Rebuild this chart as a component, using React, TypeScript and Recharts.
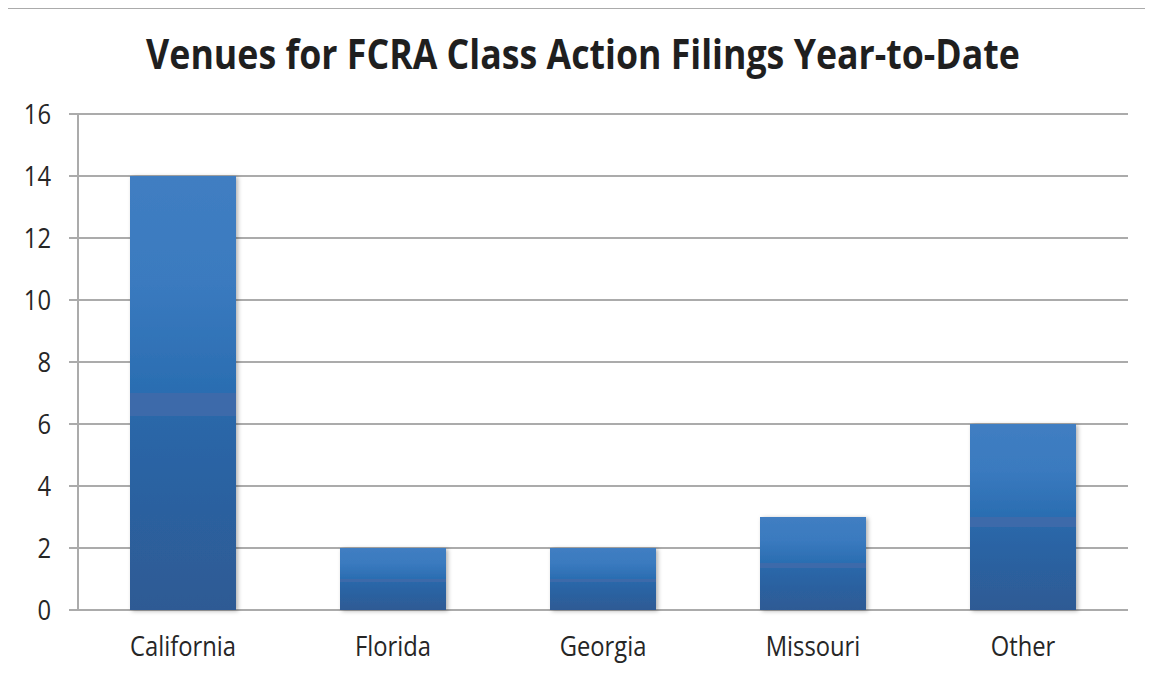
import { BarChart, Bar, XAxis, YAxis, CartesianGrid } from 'recharts';

const venues = ['California', 'Florida', 'Georgia', 'Missouri', 'Other'];
const filings = [14, 2, 2, 3, 6];
const yTicks = [0, 2, 4, 6, 8, 10, 12, 14, 16];
const edgeTicks = [0, 1, 2, 3, 4, 5];

const data = venues.map((venue, i) => ({ venue, filings: filings[i] }));

const GRID = '#ABABAB';
const TEXT = '#262626';
const FONT = '"Open Sans", sans-serif';

const XTick = ({ x, y, payload }: any) => (
    <g transform={`translate(${x},${y + 46}) scale(0.88,1)`}>
        <text textAnchor="middle" fontSize={27} fontFamily={FONT} fill={TEXT}>{payload.value}</text>
    </g>
);

const YTick = ({ x, y, payload }: any) => (
    <g transform={`translate(${x},${y}) scale(0.88,1)`}>
        <text textAnchor="end" dy="0.36em" fontSize={27} fontFamily={FONT} fill={TEXT}>{payload.value}</text>
    </g>
);

const BarShape = ({ x, y, width, height }: any) => (
    <rect x={x} y={y} width={width} height={height} fill="url(#barGrad)" filter="url(#barShadow)" />
);

export default function App() {
    return (
        <div style={{ position: 'relative', margin: '-8px 0 0 -8px', width: 1153, height: 677, overflow: 'hidden', background: '#fff' }}>
            <style>{'html{overflow:hidden}'}</style>
            {/* frame + title */}
            <svg width={1153} height={677} style={{ position: 'absolute', left: 0, top: 0 }}>
                <path d="M7 677 V8 H1153" fill="none" stroke={GRID} strokeWidth={2} />
                <g transform="translate(583,69) scale(0.85,1)">
                    <text textAnchor="middle" fontSize={42} fontWeight={700} fontFamily={FONT} fill="#1f1f1f">
                        Venues for FCRA Class Action Filings Year-to-Date
                    </text>
                </g>
            </svg>
            <div style={{ position: 'absolute', left: 8, top: 8 }}>
                <BarChart width={1137} height={660} data={data} margin={{ top: 106, right: 17, bottom: 0, left: 0 }}>
                    <defs>
                        <linearGradient id="barGrad" x1="0" y1="0" x2="0" y2="1">
                            <stop offset="0" stopColor="#407EC2" />
                            <stop offset="0.25" stopColor="#3A7ABF" />
                            <stop offset="0.5" stopColor="#2A6DB1" />
                            <stop offset="0.5" stopColor="#3C6BAA" />
                            <stop offset="0.553" stopColor="#3C6BAA" />
                            <stop offset="0.553" stopColor="#2A67A9" />
                            <stop offset="1" stopColor="#2E5A94" />
                        </linearGradient>
                        <filter id="barShadow" x="-10%" y="-10%" width="130%" height="120%">
                            <feDropShadow dx="2" dy="1" stdDeviation="2" floodColor="#000" floodOpacity="0.3" />
                        </filter>
                    </defs>
                    <CartesianGrid vertical={false} stroke={GRID} strokeWidth={2} />
                    <XAxis xAxisId="edge" type="number" dataKey="filings" domain={[0, 5]} ticks={edgeTicks} height={0} tick={false} tickSize={8} stroke={GRID} strokeWidth={2} />
                    <XAxis xAxisId="cat" dataKey="venue" height={58} tickLine={false} axisLine={false} tickSize={0} tickMargin={0} tick={<XTick />} interval={0} />
                    <YAxis domain={[0, 16]} ticks={yTicks} width={70} tickSize={9} tickMargin={18} stroke={GRID} strokeWidth={2} tick={<YTick />} interval={0} />
                    <Bar xAxisId="cat" dataKey="filings" barSize={106} shape={<BarShape />} isAnimationActive={false} />
                </BarChart>
            </div>
        </div>
    );
}
